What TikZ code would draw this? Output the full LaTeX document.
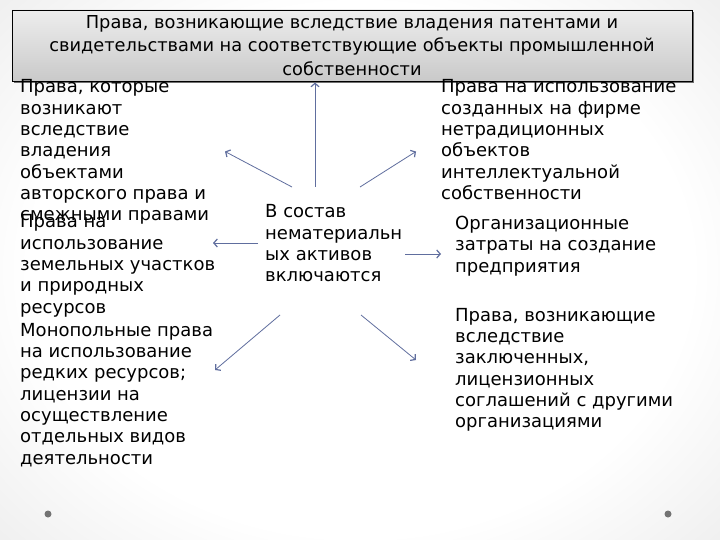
\documentclass[tikz,border=0pt]{standalone}
\usepackage{fontspec}
\setmainfont{DejaVu Sans}
\usetikzlibrary{arrows.meta, shadows, positioning}

\definecolor{arrowblue}{RGB}{96,110,158}
\pgfdeclareradialshading{slidebg}{\pgfpoint{0bp}{0bp}}{%
  color(0bp)=(white); color(18bp)=(white); color(50bp)=(black!22); color(60bp)=(black!22)}
\tikzset{
  txt/.style={anchor=north west, inner sep=0pt, align=left,
    font=\fontsize{18}{21.3}\selectfont},
  ray/.style={draw=arrowblue, line width=0.8pt,
    -{Straight Barb[length=3.5pt, width=8pt, line width=1.2pt]}},
}

\begin{document}
\begin{tikzpicture}[x=1pt, y=-1pt]
\useasboundingbox (0,0) rectangle (720,540);
\shade[shading=slidebg] (-100,-100) rectangle (820,640);

% title box
\node[draw=black, line width=0.8pt, top color=gray!14, bottom color=gray!42,
  minimum width=680pt, minimum height=71pt, inner sep=0pt, align=center,
  font=\fontsize{17.8}{23.5}\selectfont,
  drop shadow={shadow xshift=2pt, shadow yshift=-2pt, fill=black!70, opacity=0.8}]
  (title) at (352,45.5)
  {Права, возникающие вследствие владения патентами и\\
   свидетельствами на соответствующие объекты промышленной\\
   собственности};

% centre
\node[txt] (centre) at (265,204.5) {В состав\\нематериальн\\ых активов\\включаются};

% left column
\node[txt] (patents) at (20,79.5) {Права, которые\\возникают\\вследствие\\владения\\объектами\\авторского права и\\смежными правами};
\node[txt] (land) at (20,214.5) {Права на\\использование\\земельных участков\\и природных\\ресурсов};
\node[txt] (monopoly) at (20,323) {Монопольные права\\на использование\\редких ресурсов;\\лицензии на\\осуществление\\отдельных видов\\деятельности};

% right column
\node[txt] (nontrad) at (441,79.5) {Права на использование\\созданных на фирме\\нетрадиционных\\объектов\\интеллектуальной\\собственности};
\node[txt] (startup) at (455,216) {Организационные\\затраты на создание\\предприятия};
\node[txt] (licence) at (455,308) {Права, возникающие\\вследствие\\заключенных,\\лицензионных\\соглашений с другими\\организациями};

% ends of the rays
\coordinate (sUp) at (315,187);   \coordinate (eUp) at (315,82.5);
\coordinate (sUL) at (292,187);   \coordinate (eUL) at (225,151.5);
\coordinate (sUR) at (360,187);   \coordinate (eUR) at (416,151.5);
\coordinate (sL)  at (258,243);   \coordinate (eL)  at (213,243);
\coordinate (sR)  at (405,254);   \coordinate (eR)  at (441,254);
\coordinate (sLL) at (280,315);   \coordinate (eLL) at (215,370);
\coordinate (sLR) at (361,315);   \coordinate (eLR) at (416,360);

\draw[ray] (sUp) -- (eUp);
\draw[ray] (sUL) -- (eUL);
\draw[ray] (sUR) -- (eUR);
\draw[ray] (sL) -- (eL);
\draw[ray] (sR) -- (eR);
\draw[ray] (sLL) -- (eLL);
\draw[ray] (sLR) -- (eLR);

% corner dots
\fill[black!55] (48,514) circle (3.5pt);
\fill[black!55] (668,514) circle (3.5pt);
\end{tikzpicture}
\end{document}
